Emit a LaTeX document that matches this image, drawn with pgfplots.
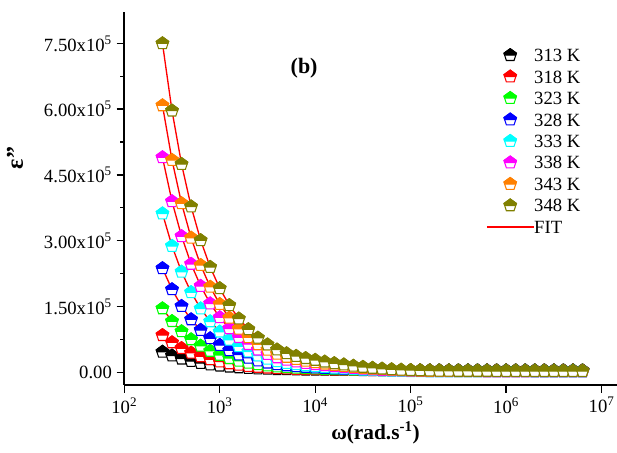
\documentclass[border=0pt]{standalone}
\usepackage{fontspec}
\setmainfont{Liberation Serif}
\usepackage{pgfplots}
\pgfplotsset{compat=1.18}
\usepackage{pgfplotstable}

\definecolor{cRed}{RGB}{255,0,0}
\definecolor{cGreen}{RGB}{0,255,0}
\definecolor{cBlue}{RGB}{0,0,255}
\definecolor{cCyan}{RGB}{0,255,255}
\definecolor{cMagenta}{RGB}{255,0,255}
\definecolor{cOrange}{RGB}{255,128,0}
\definecolor{cOlive}{RGB}{128,128,0}

\pgfdeclareplotmark{halfpent}{%
  \pgfscope
  \pgfsetfillcolor{white}%
  \pgfpathmoveto{\pgfqpointpolar{90}{\pgfplotmarksize}}%
  \pgfpathlineto{\pgfqpointpolar{162}{\pgfplotmarksize}}%
  \pgfpathlineto{\pgfqpointpolar{234}{\pgfplotmarksize}}%
  \pgfpathlineto{\pgfqpointpolar{306}{\pgfplotmarksize}}%
  \pgfpathlineto{\pgfqpointpolar{18}{\pgfplotmarksize}}%
  \pgfpathclose
  \pgfusepathqfillstroke
  \endpgfscope
  \pgfpathmoveto{\pgfqpointpolar{90}{\pgfplotmarksize}}%
  \pgfpathlineto{\pgfqpointpolar{162}{\pgfplotmarksize}}%
  \pgfpathlineto{\pgfpoint{-0.851\pgfplotmarksize}{0pt}}%
  \pgfpathlineto{\pgfpoint{0.851\pgfplotmarksize}{0pt}}%
  \pgfpathlineto{\pgfqpointpolar{18}{\pgfplotmarksize}}%
  \pgfpathclose
  \pgfusepathqfillstroke
}

\pgfplotsset{
  mk/.style={only marks, mark=halfpent, color=#1, mark size=4.9pt,
    mark options={line width=0.8pt, solid},
    legend image code/.code={\path[draw=none,fill=none] (0pt,-6pt) rectangle (35pt,6pt);
      \draw[##1] plot coordinates {(17.5pt,0pt)};}},
  fit/.style={cRed, line width=1pt, no marks,
    legend image code/.code={\path[draw=none,fill=none] (0pt,-6pt) rectangle (35pt,6pt);
      \draw[##1] (0pt,0pt) -- (35pt,0pt);}},
}

\pgfplotstableread{
w T313 T318 T323 T328 T333 T338 T343 T348
251.2 46500 84500 145500 237000 362000 490000 608500 750000
316.2 37800 67920 116330 188900 287910 389710 483960 596500
398.1 30900 54770 93190 150740 229120 310140 385140 474700
501.2 25410 44310 74800 120410 182400 246900 306610 377900
631.0 21060 36010 60190 96310 145280 196650 244210 301000
794.3 17590 29410 48580 77170 115790 156740 194640 239900
1000 14850 24170 39370 61970 92380 125050 155290 191400
1259 12660 20000 32030 49880 73750 99830 123970 152800
1585 10920 16700 26220 40290 58980 79840 99140 122200
1995 9550 14070 21600 32670 47250 63960 79430 97900
2512 8450 11990 17930 26630 37940 51350 63770 78600
3162 7580 10330 15010 21800 30510 41290 51280 63200
3981 6920 9060 12790 18140 24860 33650 41790 51500
5012 6440 8140 11170 15470 20750 28090 34890 43000
6310 6100 7500 10030 13590 17860 24170 30020 37000
7943 5810 6960 9080 12030 15450 20910 25960 32000
10000 5590 6520 8320 10770 13510 18290 22720 28000
12589 5360 6090 7560 9520 11580 15680 19470 24000
15849 5160 5710 6890 8420 9890 13390 16630 20500
19953 4990 5390 6320 7480 8450 11430 14200 17500
25119 4820 5070 5750 6540 7000 9470 11760 14500
31623 4680 4800 5280 5760 5790 7840 9740 12000
39811 4560 4560 4860 5070 4730 6400 7950 9800
50119 4450 4360 4520 4510 3860 5230 6490 8000
63096 4370 4210 4250 4070 3190 4310 5350 6600
79433 4310 4090 4040 3720 2650 3590 4460 5500
100000 4270 4010 3890 3470 2270 3070 3820 4700
125893 4230 3940 3780 3290 1980 2680 3330 4100
158489 4210 3900 3700 3160 1780 2420 3000 3700
199526 4190 3870 3650 3060 1640 2220 2760 3400
251189 4180 3850 3610 3000 1550 2090 2600 3200
316228 4170 3820 3570 2940 1450 1960 2430 3000
398107 4170 3820 3560 2920 1420 1930 2390 2950
501187 4160 3810 3550 2910 1400 1900 2350 2900
630957 4160 3810 3540 2890 1380 1860 2310 2850
794328 4160 3800 3530 2880 1350 1830 2270 2800
1000000 4160 3800 3520 2860 1330 1800 2230 2750
1258925 4150 3790 3520 2850 1310 1780 2210 2720
1584893 4150 3790 3510 2850 1300 1760 2190 2700
1995262 4150 3790 3510 2840 1290 1750 2170 2680
2511886 4150 3790 3510 2830 1290 1740 2160 2660
3162278 4150 3790 3500 2830 1270 1720 2140 2640
3981072 4150 3780 3500 2820 1260 1710 2120 2620
5011872 4150 3780 3500 2820 1260 1710 2120 2610
6309573 4150 3780 3490 2820 1260 1700 2110 2600
}\data

\begin{document}
\begin{tikzpicture}
\begin{axis}[
  name=ax,
  scale only axis, width=369.5pt, height=279.5pt,
  xmode=log, log basis x=10,
  xmin=100, xmax=1.45e7,
  ymin=-29000, ymax=821000,
  axis x line*=bottom, axis y line*=left,
  axis line style={line width=1.2pt},
  tick align=outside,
  major tick length=5.8pt, minor tick length=3.2pt,
  every tick/.style={black, line width=1pt},
  xtick={1e2,1e3,1e4,1e5,1e6,1e7},
  xticklabels={10\textsuperscript{2},10\textsuperscript{3},10\textsuperscript{4},10\textsuperscript{5},10\textsuperscript{6},10\textsuperscript{7}},
  ytick={0,150000,300000,450000,600000,750000},
  yticklabels={0.00,1.50x10\textsuperscript{5},3.00x10\textsuperscript{5},4.50x10\textsuperscript{5},6.00x10\textsuperscript{5},7.50x10\textsuperscript{5}},
  minor y tick num=1,
  scaled y ticks=false,
  tick label style={font=\fontsize{14}{16}\selectfont},
  xlabel={\textbf{ω(rad.s\textsuperscript{-1})}},
  xlabel style={font=\fontsize{16}{18}\selectfont, at={(axis description cs:0.51,0)}, anchor=base, yshift=-41.25pt},
  ylabel={\textbf{ε''}},
  ylabel style={font=\fontsize{18}{20}\selectfont, at={(axis description cs:-0.222,0.609)}, anchor=center},
  legend style={draw=none, fill=none, at={(axis description cs:0.734,0.907)}, anchor=north west,
    inner sep=0pt, row sep=4.1pt, font=\fontsize{14}{16}\selectfont,
    nodes={inner sep=0pt, text height=9.6pt, text depth=0pt}},
  legend cell align=left,
  clip=false,
]
\addplot[mk=black] table[x=w,y=T313]{\data}; \addlegendentry{313 K}
\addplot[mk=cRed] table[x=w,y=T318]{\data}; \addlegendentry{318 K}
\addplot[mk=cGreen] table[x=w,y=T323]{\data}; \addlegendentry{323 K}
\addplot[mk=cBlue] table[x=w,y=T328]{\data}; \addlegendentry{328 K}
\addplot[mk=cCyan] table[x=w,y=T333]{\data}; \addlegendentry{333 K}
\addplot[mk=cMagenta] table[x=w,y=T338]{\data}; \addlegendentry{338 K}
\addplot[mk=cOrange] table[x=w,y=T343]{\data}; \addlegendentry{343 K}
\addplot[mk=cOlive] table[x=w,y=T348]{\data}; \addlegendentry{348 K}
\addplot[fit, forget plot] table[x=w,y=T313]{\data};
\addplot[fit, forget plot] table[x=w,y=T318]{\data};
\addplot[fit, forget plot] table[x=w,y=T323]{\data};
\addplot[fit, forget plot] table[x=w,y=T328]{\data};
\addplot[fit, forget plot] table[x=w,y=T333]{\data};
\addplot[fit, forget plot] table[x=w,y=T338]{\data};
\addplot[fit, forget plot] table[x=w,y=T343]{\data};
\addplot[fit] table[x=w,y=T348]{\data}; \addlegendentry{FIT}
\node[font=\fontsize{16.5}{18}\bfseries\selectfont] at (rel axis cs:0.365,0.85) {(b)};
\end{axis}
\pgfresetboundingbox
\path[use as bounding box] ([xshift=-93.2pt,yshift=-51pt]ax.south west) rectangle ([yshift=9.2pt]ax.north east);
\end{tikzpicture}
\end{document}
